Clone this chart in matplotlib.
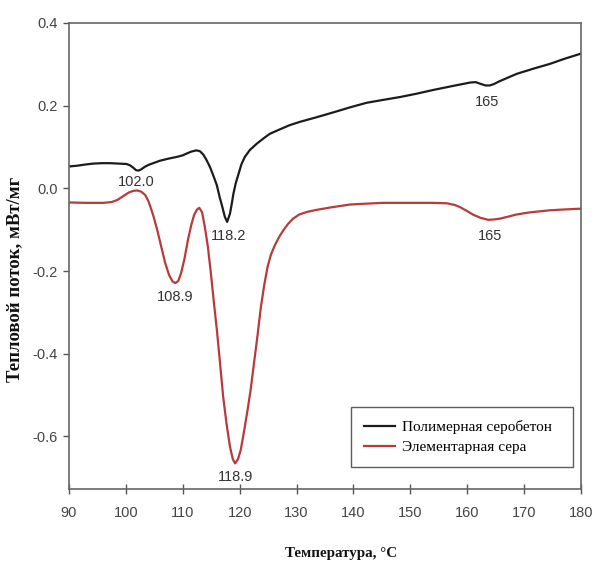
import matplotlib
matplotlib.use("Agg")
import matplotlib.pyplot as plt

# Полимерная серобетон (black)
poly_t = [90.0, 91.5, 93.0, 94.3, 95.8, 97.2, 98.7, 100.1, 100.7, 101.3, 101.8, 102.2, 102.7, 103.3,
          104.0, 105.0, 106.0, 107.5, 108.9, 110.0, 110.8, 111.5, 112.4, 113.0, 113.6, 114.2, 114.8,
          115.4, 116.0, 116.5, 116.9, 117.4, 117.8, 118.3, 118.6, 118.9, 119.3, 119.8, 120.3, 120.9,
          121.8, 123.0, 124.2, 125.3, 127.1, 128.8, 130.6, 133.5, 136.5, 139.4, 142.3, 145.2, 148.2,
          151.1, 154.0, 157.2, 160.5, 161.5, 162.3, 163.2, 164.0, 164.8, 165.5, 167.0, 168.7, 171.5,
          174.5, 177.0, 180.0]
poly_v = [0.053, 0.055, 0.058, 0.060, 0.061, 0.061, 0.060, 0.059, 0.056, 0.050, 0.044, 0.043, 0.046,
          0.052, 0.057, 0.062, 0.067, 0.072, 0.076, 0.080, 0.085, 0.089, 0.092, 0.090, 0.082, 0.068,
          0.051, 0.030, 0.007, -0.022, -0.042, -0.069, -0.081, -0.061, -0.038, -0.013, 0.012, 0.035,
          0.058, 0.076, 0.093, 0.108, 0.121, 0.132, 0.143, 0.153, 0.161, 0.172, 0.184, 0.196, 0.207,
          0.214, 0.221, 0.229, 0.238, 0.247, 0.256, 0.257, 0.253, 0.249, 0.249, 0.253, 0.258, 0.267,
          0.277, 0.289, 0.301, 0.313, 0.326]

# Элементарная сера (red)
sulf_t = [90.0, 93.0, 96.0, 97.5, 98.5, 99.5, 100.5, 101.3, 102.0, 102.7, 103.4, 104.0, 104.8, 105.5,
          106.2, 106.9, 107.6, 108.2, 108.7, 109.2, 109.7, 110.3, 110.9, 111.5, 112.0, 112.5, 112.9,
          113.4, 113.9, 114.4, 114.9, 115.5, 116.0, 116.6, 117.1, 117.7, 118.3, 118.8, 119.2, 119.7,
          120.2, 120.8, 121.4, 121.9, 122.5, 123.1, 123.7, 124.3, 124.9, 125.5, 126.2, 127.0, 127.7,
          128.5, 129.4, 130.5, 131.8, 133.5, 136.0, 139.4, 142.0, 145.2, 148.0, 151.1, 154.0, 156.4,
          157.8, 158.7, 160.0, 161.1, 162.3, 163.7, 164.8, 165.8, 167.0, 168.7, 171.0, 174.5, 177.0,
          180.0]
sulf_v = [-0.034, -0.035, -0.035, -0.033, -0.028, -0.019, -0.010, -0.006, -0.005, -0.008, -0.016,
          -0.032, -0.065, -0.100, -0.140, -0.180, -0.210, -0.225, -0.229, -0.224, -0.205, -0.170,
          -0.125, -0.088, -0.064, -0.051, -0.047, -0.058, -0.095, -0.140, -0.200, -0.280, -0.343,
          -0.430, -0.504, -0.570, -0.625, -0.655, -0.665, -0.655, -0.632, -0.585, -0.535, -0.490,
          -0.425, -0.360, -0.290, -0.235, -0.190, -0.160, -0.137, -0.116, -0.101, -0.086, -0.073,
          -0.063, -0.057, -0.052, -0.046, -0.039, -0.037, -0.035, -0.035, -0.035, -0.035, -0.036,
          -0.040, -0.045, -0.055, -0.064, -0.071, -0.076, -0.075, -0.073, -0.069, -0.063, -0.058,
          -0.053, -0.051, -0.049]

# peak annotations: (x, y, text)
ann_x = [101.9, 118.0, 108.6, 119.2, 163.4, 164.0]
ann_y = [0.015, -0.116, -0.262, -0.697, 0.208, -0.114]
ann_txt = ["102.0", "118.2", "108.9", "118.9", "165", "165"]

x_ticks = [90, 100, 110, 120, 130, 140, 150, 160, 170, 180]
y_ticks = [-0.6, -0.4, -0.2, 0.0, 0.2, 0.4]
y_ticklabels = ["-0.6", "-0.4", "-0.2", "0.0", "0.2", "0.4"]

fig = plt.figure(figsize=(5.94, 5.62), dpi=100)
ax = fig.add_axes([69/594, 1 - 489/562, (581 - 69)/594, (489 - 23)/562])

ax.plot(poly_t, poly_v, color="#1c1c1c", lw=1.6, label="Полимерная серобетон  ")
ax.plot(sulf_t, sulf_v, color="#b83a3a", lw=1.6, label="Элементарная сера")

ax.set_xlim(90, 180)
ax.set_ylim(-0.727, 0.4)
ax.set_xticks(x_ticks)
ax.set_xticklabels([str(t) for t in x_ticks])
ax.set_yticks(y_ticks)
ax.set_yticklabels(y_ticklabels)

tick_color = "#555555"
for s in ax.spines.values():
    s.set_color("#666666")
    s.set_linewidth(1.2)
ax.tick_params(axis="x", direction="inout", length=7, width=1.0, color=tick_color,
               labelsize=10.5, labelcolor="#444444", pad=9)
ax.tick_params(axis="y", direction="out", length=4, width=1.0, color=tick_color,
               labelsize=10.5, labelcolor="#444444", pad=4)
for lbl in ax.get_xticklabels() + ax.get_yticklabels():
    lbl.set_family("Liberation Sans")

for x, y, t in zip(ann_x, ann_y, ann_txt):
    ax.text(x, y, t, ha="center", va="center", fontsize=10.5, color="#333333",
            family="Liberation Sans")

ax.set_xlabel("Температура, °C", family="Liberation Serif", fontweight="bold",
              fontsize=10.8, color="#111111")
ax.xaxis.set_label_coords(0.531, -0.124)
ax.set_ylabel("Тепловой поток, мВт/мг", family="Liberation Serif", fontweight="bold",
              fontsize=13.5, color="#111111")
ax.yaxis.set_label_coords(-0.09, 0.449)

leg = ax.legend(loc="lower right", bbox_to_anchor=((573 - 69)/512, (489 - 467)/466),
                prop={"family": "Liberation Serif", "size": 11}, frameon=True,
                fancybox=False, borderpad=0.85, handlelength=2.0, labelspacing=0.4,
                handletextpad=0.5, borderaxespad=0.0)
leg.get_frame().set_edgecolor("#333333")
leg.get_frame().set_linewidth(1.0)

fig.savefig("out.png", dpi=100)
